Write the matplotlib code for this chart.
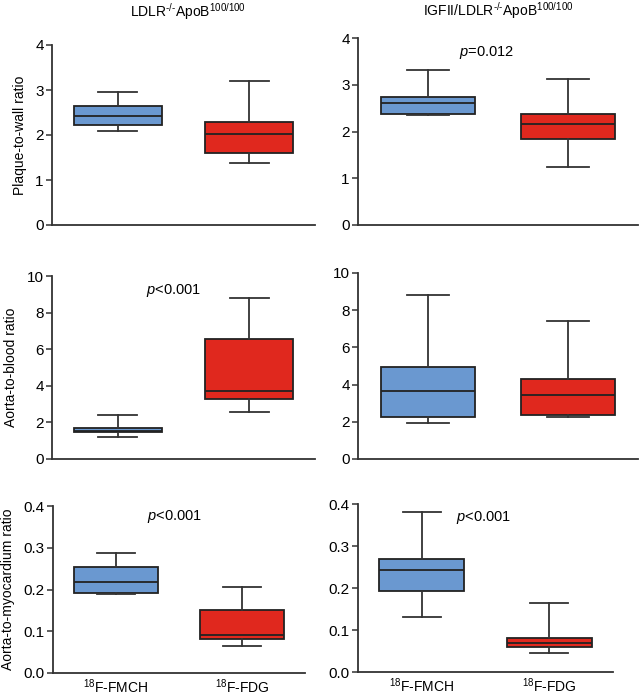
import matplotlib
matplotlib.use("Agg")
import matplotlib.pyplot as plt

plt.rcParams["font.family"] = ["Liberation Sans", "DejaVu Sans"]
plt.rcParams["mathtext.fontset"] = "custom"
plt.rcParams["mathtext.rm"] = "Liberation Sans"
plt.rcParams["mathtext.it"] = "Liberation Sans:italic"

# Box statistics per panel: [FMCH, FDG]
tracers = ["$^{18}$F-FMCH", "$^{18}$F-FDG"]
col_titles = ["LDLR$^{\\text{-/-}}$ApoB$^{100/100}$", "IGFII/LDLR$^{\\text{-/-}}$ApoB$^{100/100}$"]
row_labels = ["Plaque-to-wall ratio", "Aorta-to-blood ratio", "Aorta-to-myocardium ratio"]

# plaque-to-wall
pw_ldlr_lo = [2.10, 1.37]; pw_ldlr_q1 = [2.23, 1.60]; pw_ldlr_med = [2.42, 2.03]; pw_ldlr_q3 = [2.65, 2.30]; pw_ldlr_hi = [2.95, 3.20]
pw_igf_lo = [2.35, 1.25]; pw_igf_q1 = [2.38, 1.83]; pw_igf_med = [2.62, 2.17]; pw_igf_q3 = [2.74, 2.37]; pw_igf_hi = [3.32, 3.13]
# aorta-to-blood
ab_ldlr_lo = [1.20, 2.57]; ab_ldlr_q1 = [1.47, 3.30]; ab_ldlr_med = [1.55, 3.70]; ab_ldlr_q3 = [1.72, 6.57]; ab_ldlr_hi = [2.38, 8.80]
ab_igf_lo = [1.95, 2.27]; ab_igf_q1 = [2.27, 2.38]; ab_igf_med = [3.63, 3.43]; ab_igf_q3 = [4.97, 4.30]; ab_igf_hi = [8.80, 7.42]
# aorta-to-myocardium
am_ldlr_lo = [0.190, 0.065]; am_ldlr_q1 = [0.191, 0.081]; am_ldlr_med = [0.218, 0.090]; am_ldlr_q3 = [0.253, 0.152]; am_ldlr_hi = [0.287, 0.205]
am_igf_lo = [0.130, 0.045]; am_igf_q1 = [0.192, 0.060]; am_igf_med = [0.242, 0.070]; am_igf_q3 = [0.270, 0.082]; am_igf_hi = [0.382, 0.165]

panels = [
    (pw_ldlr_lo, pw_ldlr_q1, pw_ldlr_med, pw_ldlr_q3, pw_ldlr_hi),
    (pw_igf_lo, pw_igf_q1, pw_igf_med, pw_igf_q3, pw_igf_hi),
    (ab_ldlr_lo, ab_ldlr_q1, ab_ldlr_med, ab_ldlr_q3, ab_ldlr_hi),
    (ab_igf_lo, ab_igf_q1, ab_igf_med, ab_igf_q3, ab_igf_hi),
    (am_ldlr_lo, am_ldlr_q1, am_ldlr_med, am_ldlr_q3, am_ldlr_hi),
    (am_igf_lo, am_igf_q1, am_igf_med, am_igf_q3, am_igf_hi),
]
pvals = [None, "$\\it{p}$=0.012", "$\\it{p}$<0.001", None, "$\\it{p}$<0.001", "$\\it{p}$<0.001"]
p_pos = [None, (0.46, 0.92), (0.46, 0.92), None, (0.48, 0.94), (0.49, 0.92)]
ylims = [(0, 4), (0, 4), (0, 10), (0, 10), (0, 0.4), (0, 0.4)]
yticks = [[0, 1, 2, 3, 4]] * 2 + [[0, 2, 4, 6, 8, 10]] * 2 + [[0.0, 0.1, 0.2, 0.3, 0.4]] * 2

# axes rectangles in pixels: x0, x1, ytop, ybottom
rects = [(52, 315, 45, 225), (358, 638, 38, 225),
         (52, 315, 276, 459), (358, 638, 273, 459),
         (53, 305, 506, 673), (358, 613, 504, 672)]

colors = ["#6a98d0", "#e0281e"]
W, H = 640, 695
fig = plt.figure(figsize=(W / 100, H / 100), dpi=100)

for i, (stats, (x0, x1, yt, yb)) in enumerate(zip(panels, rects)):
    ax = fig.add_axes([x0 / W, 1 - yb / H, (x1 - x0) / W, (yb - yt) / H])
    lo, q1, med, q3, hi = stats
    bx = [dict(whislo=lo[k], q1=q1[k], med=med[k], q3=q3[k], whishi=hi[k], fliers=[])
          for k in range(2)]
    art = ax.bxp(bx, positions=[0.5, 1.5], widths=0.67, patch_artist=True,
                 showfliers=False,
                 boxprops=dict(linewidth=1.3, edgecolor="#222222"),
                 medianprops=dict(color="#222222", linewidth=1.3),
                 whiskerprops=dict(color="#333333", linewidth=1.3),
                 capprops=dict(color="#333333", linewidth=1.3),
                 capwidths=0.3)
    for patch, c in zip(art["boxes"], colors):
        patch.set_facecolor(c)
    ax.set_xlim(0, 2)
    ax.set_ylim(*ylims[i])
    ax.set_yticks(yticks[i])
    if i >= 4:
        ax.yaxis.set_major_formatter(matplotlib.ticker.FormatStrFormatter("%.1f"))
    for s in ["top", "right"]:
        ax.spines[s].set_visible(False)
    for s in ["left", "bottom"]:
        ax.spines[s].set_color("#333333")
        ax.spines[s].set_linewidth(1.3)
    ax.tick_params(axis="y", length=4, width=1.1, color="#333333", labelsize=11, pad=2)
    ax.tick_params(axis="x", length=0, labelsize=10, pad=3)
    if i >= 4:
        ax.set_xticks([0.5, 1.5])
        ax.set_xticklabels(tracers)
    else:
        ax.set_xticks([])
    if i % 2 == 0:
        ax.set_ylabel(row_labels[i // 2], fontsize=10, labelpad=6)
    if pvals[i]:
        ax.text(p_pos[i][0], p_pos[i][1], pvals[i], transform=ax.transAxes,
                ha="center", va="center", fontsize=10.5)

fig.text(188 / W, 1 - 12 / H, col_titles[0], ha="center", va="center", fontsize=10)
fig.text(498 / W, 1 - 11 / H, col_titles[1], ha="center", va="center", fontsize=10)

fig.savefig("out.png", dpi=100)
